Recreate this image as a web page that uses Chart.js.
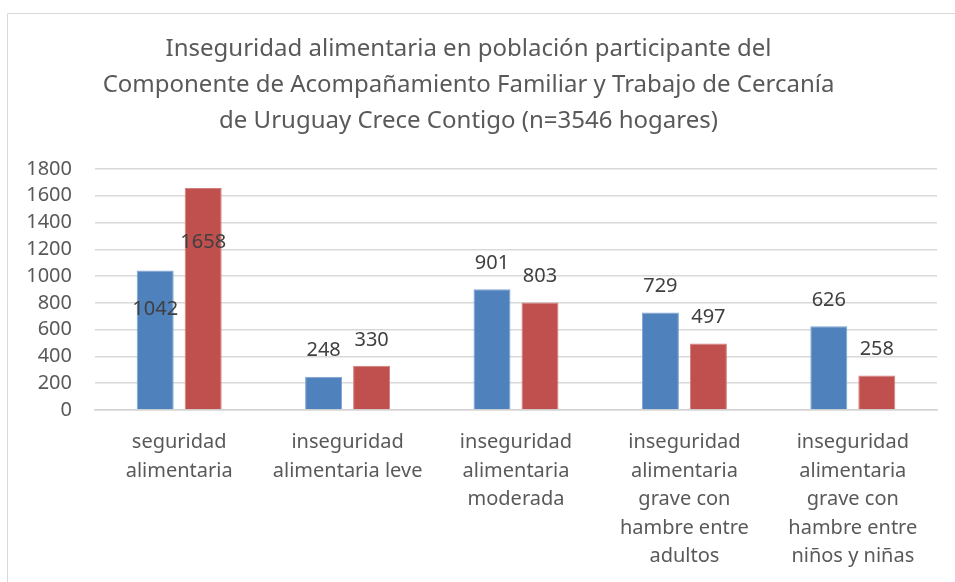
<!DOCTYPE html>
<html>
<head>
<meta charset="utf-8">
<script src="https://cdn.jsdelivr.net/npm/chart.js@4/dist/chart.umd.min.js"></script>
<style>
  html, body { margin: 0; padding: 0; background: #fff; }
  #wrap { width: 955px; height: 582px; position: relative; }
</style>
</head>
<body>
<div id="wrap"><canvas id="foodChart"></canvas></div>
<script>
// categories (multi-line labels as in the original)
const categories = [
  ['seguridad', 'alimentaria'],
  ['inseguridad', 'alimentaria leve'],
  ['inseguridad', 'alimentaria', 'moderada'],
  ['inseguridad', 'alimentaria', 'grave con', 'hambre entre', 'adultos'],
  ['inseguridad', 'alimentaria', 'grave con', 'hambre entre', 'niños y niñas']
];
const seriesBlue = [1042, 248, 901, 729, 626];
const seriesRed = [1658, 330, 803, 497, 258];
const yTicks = [0, 200, 400, 600, 800, 1000, 1200, 1400, 1600, 1800];
const titleLines = [
  'Inseguridad alimentaria en población participante del',
  'Componente de Acompañamiento Familiar y Trabajo de Cercanía',
  'de Uruguay Crece Contigo (n=3546 hogares)'
];

const textGray = '#595959';
const fontFamily = '"Noto Sans", "Open Sans", sans-serif';

// outer frame of the chart (only left and top edges are visible)
const frameBorder = {
  id: 'frameBorder',
  beforeDraw(chart) {
    const ctx = chart.ctx;
    ctx.save();
    ctx.strokeStyle = '#d9d9d9';
    ctx.lineWidth = 1;
    ctx.beginPath();
    ctx.moveTo(7.5, chart.height);
    ctx.lineTo(7.5, 13.5);
    ctx.lineTo(chart.width, 13.5);
    ctx.stroke();
    ctx.restore();
  }
};

// value labels: above the bar, or inside for the first group like the original
const valueLabels = {
  id: 'valueLabels',
  afterDatasetsDraw(chart, args, opts) {
    const ctx = chart.ctx;
    ctx.save();
    ctx.font = '20px ' + fontFamily;
    ctx.fillStyle = '#404040';
    ctx.textAlign = 'center';
    ctx.textBaseline = 'middle';
    chart.data.datasets.forEach((ds, di) => {
      chart.getDatasetMeta(di).data.forEach((bar, i) => {
        const inside = opts.inside[di] && opts.inside[di][i];
        const y = inside != null ? bar.y + inside : bar.y - 26;
        ctx.fillText(String(ds.data[i]), bar.x, y);
      });
    });
    ctx.restore();
  }
};

new Chart(document.getElementById('foodChart'), {
  type: 'bar',
  data: {
    labels: categories,
    datasets: [{
      label: 'Serie 1',
      data: seriesBlue,
      backgroundColor: '#4f81bd',
      borderColor: '#7fa3d1',
      borderWidth: 1,
      barPercentage: 0.771,
      categoryPercentage: 0.57
    }, {
      label: 'Serie 2',
      data: seriesRed,
      backgroundColor: '#c0504d',
      borderColor: '#d27e7c',
      borderWidth: 1,
      barPercentage: 0.771,
      categoryPercentage: 0.57
    }]
  },
  options: {
    responsive: true,
    maintainAspectRatio: false,
    animation: false,
    layout: { padding: { left: 0, right: 18, top: 0, bottom: 0 } },
    plugins: {
      legend: { display: false },
      tooltip: { enabled: false },
      title: {
        display: true,
        text: titleLines,
        color: textGray,
        font: { family: fontFamily, size: 24, weight: 'normal', lineHeight: 1.5 },
        padding: { top: 31, bottom: 30 }
      },
      valueLabels: { inside: [[39], [54]] }
    },
    scales: {
      x: {
        grid: { display: false, drawTicks: false },
        border: { display: true, color: '#d4d4d4', width: 1.5 },
        ticks: {
          color: textGray,
          font: { family: fontFamily, size: 20, lineHeight: 1.43 },
          padding: 18,
          maxRotation: 0,
          autoSkip: false
        },
        afterFit(scale) { scale.height = 172; }
      },
      y: {
        min: 0,
        max: 1800,
        afterBuildTicks(scale) { scale.ticks = yTicks.map(v => ({ value: v })); },
        grid: { color: '#d9d9d9', lineWidth: 1.5, drawTicks: false },
        border: { display: false },
        ticks: {
          color: textGray,
          font: { family: fontFamily, size: 20 },
          padding: 23,
          autoSkip: false,
          callback: v => String(v)
        },
        afterFit(scale) { scale.width = 95; }
      }
    }
  },
  plugins: [frameBorder, valueLabels]
});
</script>
</body>
</html>
